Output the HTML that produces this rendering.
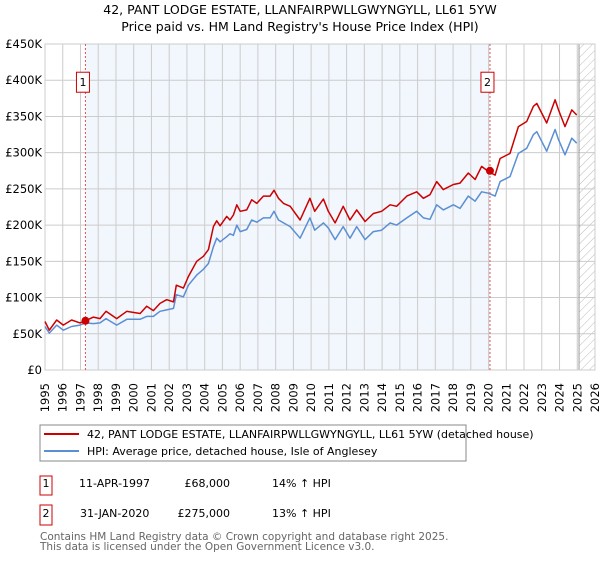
<!DOCTYPE html>
<html><head><meta charset="utf-8"><style>
body{margin:0;background:#fff;font-family:"DejaVu Sans","Liberation Sans",sans-serif;}
svg text{font-family:"DejaVu Sans","Liberation Sans",sans-serif;}
</style></head><body>
<svg id="chart" width="600" height="560" viewBox="0 0 600 560" xmlns="http://www.w3.org/2000/svg">
<defs><pattern id="hatch" patternUnits="userSpaceOnUse" width="6" height="6" patternTransform="rotate(45)"><line x1="0" y1="0" x2="0" y2="6" stroke="#bbb" stroke-width="1"/></pattern></defs>
<text x="300" y="14" text-anchor="middle" font-size="12.5">42, PANT LODGE ESTATE, LLANFAIRPWLLGWYNGYLL, LL61 5YW</text>
<text x="300" y="31" text-anchor="middle" font-size="12.5">Price paid vs. HM Land Registry's House Price Index (HPI)</text>
<g id="plot"></g>
<g>
<rect x="40" y="425" width="426" height="36" fill="#fff" stroke="#888"/>
<line x1="44" y1="434" x2="79" y2="434" stroke="#cc0000" stroke-width="2"/>
<text x="87" y="438" font-size="11">42, PANT LODGE ESTATE, LLANFAIRPWLLGWYNGYLL, LL61 5YW (detached house)</text>
<line x1="44" y1="451" x2="79" y2="451" stroke="#5b8fd4" stroke-width="2"/>
<text x="87" y="455" font-size="11">HPI: Average price, detached house, Isle of Anglesey</text>
</g>
<g font-size="11">
<rect x="40" y="476" width="12" height="19" fill="#fff" stroke="#cc0000"/><text x="46" y="487" text-anchor="middle">1</text>
<text x="79" y="487">11-APR-1997</text><text x="230" y="487" text-anchor="end">£68,000</text><text x="272" y="487">14% ↑ HPI</text>
<rect x="40" y="505" width="12" height="20" fill="#fff" stroke="#cc0000"/><text x="46" y="517" text-anchor="middle">2</text>
<text x="80" y="517">31-JAN-2020</text><text x="230" y="517" text-anchor="end">£275,000</text><text x="272" y="517">13% ↑ HPI</text>
</g>
<text x="40" y="540" font-size="10.5" fill="#666">Contains HM Land Registry data © Crown copyright and database right 2025.</text>
<text x="40" y="550" font-size="10.5" fill="#666">This data is licensed under the Open Government Licence v3.0.</text>
</svg>
<script>
const years=[1995.0,1995.24,1995.66,1996.03,1996.5,1996.97,1997.29,1997.73,1998.1,1998.44,1999.04,1999.61,2000.36,2000.73,2001.11,2001.48,2001.86,2002.24,2002.4,2002.8,2003.08,2003.55,2003.93,2004.21,2004.49,2004.68,2004.87,2005.24,2005.43,2005.62,2005.81,2006.0,2006.37,2006.65,2006.94,2007.31,2007.69,2007.91,2008.16,2008.44,2008.82,2009.38,2009.93,2010.2,2010.69,2010.97,2011.35,2011.81,2012.19,2012.57,2013.04,2013.51,2013.97,2014.45,2014.82,2015.39,2015.95,2016.33,2016.7,2017.08,2017.45,2018.02,2018.39,2018.86,2019.24,2019.61,2019.99,2020.37,2020.65,2021.21,2021.68,2022.15,2022.53,2022.72,2023.28,2023.75,2023.94,2024.31,2024.69,2024.97];
const hpi=[60,51,62,55,60,62,65,64,65,71,62,70,70,74,74,81,83,85,104,101,117,131,139,147,170,182,177,184,188,186,200,191,194,207,204,210,210,219,207,203,198,182,210,193,203,196,180,198,182,198,180,191,193,203,200,210,219,210,208,228,221,228,223,240,233,246,244,240,260,267,299,306,325,329,302,332,318,297,320,313];
const price=[67,55,69,62,69,65,68,73,71,81,71,81,78,88,82,92,97,94,117,113,129,150,157,166,198,206,199,212,207,214,228,219,221,235,230,240,240,248,237,230,226,207,237,219,236,219,203,226,207,221,205,216,219,228,226,240,246,237,242,260,249,256,258,272,263,281,274,269,292,299,336,343,364,368,341,373,359,336,359,352];
const yTicks=[0,50,100,150,200,250,300,350,400,450];
const xTicks=[1995,1996,1997,1998,1999,2000,2001,2002,2003,2004,2005,2006,2007,2008,2009,2010,2011,2012,2013,2014,2015,2016,2017,2018,2019,2020,2021,2022,2023,2024,2025,2026];
const sales=[{n:"1",year:1997.28,value:68},{n:"2",year:2020.08,value:275}];
const dataEnd=2025.1;
const L=45,R=595,T=44,B=370;
const X=y=>L+(y-1995)/(2026-1995)*(R-L);
const Y=v=>B-v/450*(B-T);
const NS="http://www.w3.org/2000/svg";
const g=document.getElementById('plot');
function mk(tag,attrs,parent){const e=document.createElementNS(NS,tag);for(const k in attrs)e.setAttribute(k,attrs[k]);(parent||g).appendChild(e);return e;}
mk('rect',{x:L,y:T,width:R-L,height:B-T,fill:'#fff'});
const shade=mk('rect',{x:X(sales[0].year),y:T,width:X(sales[1].year)-X(sales[0].year),height:B-T,fill:'#f2f6fd'});


const hatch=mk('rect',{x:X(dataEnd),y:T,width:R-X(dataEnd),height:B-T,fill:'url(#hatch)'});


xTicks.forEach(t=>{
  mk('line',{x1:X(t),y1:T,x2:X(t),y2:B,stroke:'#ccc','stroke-width':1});
  const cx=X(t)+4, cy=B+13;
  const tx=mk('text',{x:cx,y:cy,'font-size':11.5,'text-anchor':'end',transform:'rotate(-90,'+cx+','+cy+')'});
  tx.textContent=t;
  
  
});
yTicks.forEach(t=>{
  mk('line',{x1:L,y1:Y(t),x2:R,y2:Y(t),stroke:'#ccc','stroke-width':1});
  const tx=mk('text',{x:L-3,y:Y(t)+4,'font-size':11.5,'text-anchor':'end'});
  tx.textContent=t===0?'£0':'£'+t+'K';
  
  
});
mk('line',{x1:X(dataEnd),y1:T,x2:X(dataEnd),y2:B,stroke:'#999','stroke-width':1});
mk('rect',{x:L,y:T,width:R-L,height:B-T,fill:'none',stroke:'#ccc'});
const pts=a=>a.map((v,i)=>X(years[i]).toFixed(1)+','+Y(v).toFixed(1)).join(' ');
const hl=mk('polyline',{points:pts(hpi),fill:'none',stroke:'#5b8fd4','stroke-width':1.5,'stroke-linejoin':'round'});


const pl=mk('polyline',{points:pts(price),fill:'none',stroke:'#cc0000','stroke-width':1.5,'stroke-linejoin':'round'});


sales.forEach(s=>{
  mk('line',{x1:X(s.year),y1:T,x2:X(s.year),y2:B,stroke:'#e05555','stroke-width':1,'stroke-dasharray':'2,2'});
  const c=mk('circle',{cx:X(s.year),cy:Y(s.value),r:4,fill:'#cc0000'});
  
  
  const bx=mk('rect',{x:X(s.year)-9,y:Y(400)-8,width:13,height:20,fill:'#fff',stroke:'#cc0000'});
  
  
  const t=mk('text',{x:X(s.year)-2.5,y:Y(400)+6,'font-size':11,'text-anchor':'middle'});
  t.textContent=s.n;
});
</script>
</body></html>
